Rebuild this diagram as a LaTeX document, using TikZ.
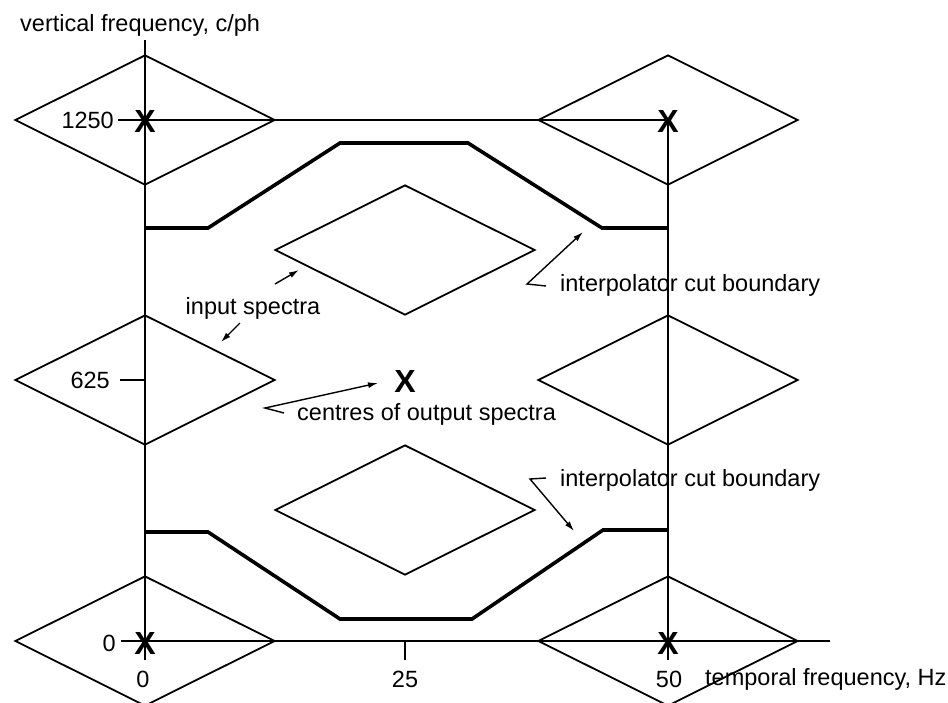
\documentclass[tikz,border=0pt]{standalone}
\usepackage{fontspec}
\setmainfont{Liberation Sans}
\usetikzlibrary{arrows.meta,shapes.geometric}
\begin{document}
\begin{tikzpicture}[x=1pt,y=-1pt,
  thinline/.style={line width=1.8pt},
  cutline/.style={line width=3.6pt, line join=miter},
  lbl/.style={font=\fontsize{23.5}{25}\selectfont, inner sep=0pt},
  xmark/.style={font=\fontsize{32}{33}\selectfont\bfseries, inner sep=0pt},
  ann/.style={line width=1.4pt, -{Latex[length=10pt,width=6pt]}},
  dia/.style={draw, line width=1.8pt, shape=diamond, minimum width=260pt, minimum height=130pt, inner sep=0pt}
]
\useasboundingbox (0,0) rectangle (948,702);
% spectra (diamonds)
\node[dia] (d1) at (145,120) {};
\node[dia] (d2) at (668,120) {};
\node[dia] (d3) at (145,380) {};
\node[dia] (d4) at (668,380) {};
\node[dia] (d5) at (145,641) {};
\node[dia] (d6) at (668,641) {};
\node[dia] (d7) at (405,250) {};
\node[dia] (d8) at (405,510) {};
% axes
\coordinate (vtop) at (145,40);
\coordinate (vbot) at (145,660);
\coordinate (rtop) at (668,120);
\coordinate (rbot) at (668,660);
\coordinate (hl) at (121,641);
\coordinate (hr) at (830,641);
\coordinate (t1250) at (118,120);
\coordinate (t625) at (120,380);
\coordinate (a625) at (145,380);
\coordinate (t25a) at (405,641);
\coordinate (t25b) at (405,660);
\draw[thinline] (vtop) -- (vbot);
\draw[thinline] (rtop) -- (rbot);
\draw[thinline] (hl) -- (hr);
\draw[thinline] (t1250) -- (rtop);
\draw[thinline] (t625) -- (a625);
\draw[thinline] (t25a) -- (t25b);
% interpolator cut boundaries
\coordinate (u0) at (145,228);
\coordinate (u1) at (208,228);
\coordinate (u2) at (340,143);
\coordinate (u3) at (468,143);
\coordinate (u4) at (602,228);
\coordinate (u5) at (668,228);
\draw[cutline] (u0) -- (u1) -- (u2) -- (u3) -- (u4) -- (u5);
\coordinate (l0) at (145,532);
\coordinate (l1) at (208,532);
\coordinate (l2) at (340,619);
\coordinate (l3) at (472,619);
\coordinate (l4) at (603,530);
\coordinate (l5) at (668,530);
\draw[cutline] (l0) -- (l1) -- (l2) -- (l3) -- (l4) -- (l5);
% X marks
\node[xmark] (x1) at (145,121) {X};
\node[xmark] (x2) at (668,121) {X};
\node[xmark] (x3) at (145,643) {X};
\node[xmark] (x4) at (668,643) {X};
\node[xmark] (x5) at (405,381) {X};
% axis labels
\node[lbl, anchor=west] (vlab) at (20,25) {vertical frequency, c/ph};
\node[lbl, anchor=east] (l1250) at (114,120) {1250};
\node[lbl, anchor=east] (l625) at (110,380) {625};
\node[lbl, anchor=east] (l0v) at (116,643) {0};
\node[lbl] (l0h) at (143,679) {0};
\node[lbl] (l25h) at (405,679) {25};
\node[lbl] (l50h) at (669,679) {50};
\node[lbl, anchor=west] (tlab) at (705,679) {temporal frequency, Hz};
% annotations
\node[lbl] (inp) at (253,308) {input spectra};
\coordinate (ia1s) at (275,284);
\coordinate (ia1e) at (299,270);
\coordinate (ia2s) at (240,323);
\coordinate (ia2e) at (221,342);
\draw[ann] (ia1s) -- (ia1e);
\draw[ann] (ia2s) -- (ia2e);
\node[lbl, anchor=west] (cen) at (297,414) {centres of output spectra};
\coordinate (cs) at (284,413);
\coordinate (cm) at (265,408);
\coordinate (ce) at (378,383);
\draw[ann] (cs) -- (cm) -- (ce);
\node[lbl, anchor=west] (ic1) at (560,285) {interpolator cut boundary};
\coordinate (ic1s) at (546,286);
\coordinate (ic1m) at (527,284);
\coordinate (ic1e) at (583,232);
\draw[ann] (ic1s) -- (ic1m) -- (ic1e);
\node[lbl, anchor=west] (ic2) at (560,480) {interpolator cut boundary};
\coordinate (ic2s) at (546,478);
\coordinate (ic2m) at (530,479);
\coordinate (ic2e) at (574,531);
\draw[ann] (ic2s) -- (ic2m) -- (ic2e);
\end{tikzpicture}
\end{document}
